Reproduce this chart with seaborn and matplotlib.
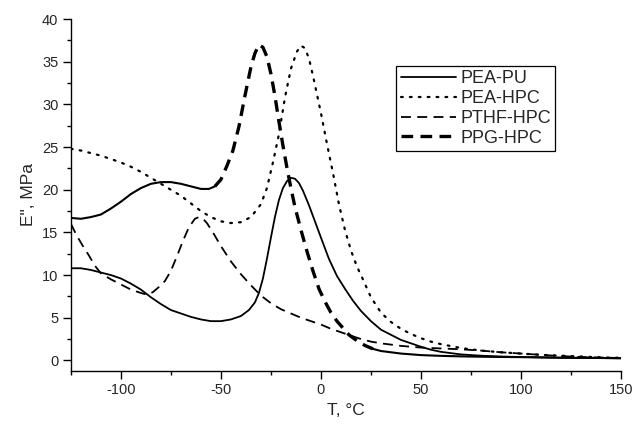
import pandas as pd
import matplotlib
matplotlib.use('Agg')
import matplotlib.pyplot as plt
import seaborn as sns

# Loss modulus E'' vs temperature
pea_pu_T = [-125, -120, -115, -110, -105, -100, -95, -90, -85, -80, -75, -70, -65, -60, -55, -50,
            -45, -40, -36, -33, -31, -29, -27, -25, -23, -21, -19, -17, -15, -13, -11, -9, -6, -3, 0, 4, 8, 12, 16, 20,
            25, 30, 35, 40, 45, 50, 55, 60, 70, 80, 90, 100, 110, 120, 130, 140, 150]
pea_pu_E = [10.8, 10.8, 10.6, 10.3, 10.0, 9.6, 9.0, 8.3, 7.4, 6.6, 5.9, 5.5, 5.1, 4.8, 4.6, 4.6,
            4.8, 5.2, 5.9, 6.8, 7.9, 9.6, 11.9, 14.4, 16.8, 18.8, 20.2, 21.0, 21.4, 21.3, 20.8, 19.9, 18.2, 16.3, 14.4, 11.9, 9.9, 8.4, 7.0, 5.8,
            4.6, 3.6, 3.0, 2.4, 2.0, 1.6, 1.25, 1.0, 0.7, 0.55, 0.45, 0.4, 0.35, 0.3, 0.28, 0.27, 0.25]

pea_hpc_T = [-125, -120, -115, -110, -105, -100, -95, -90, -85, -80, -75, -70, -65, -60, -55, -50,
             -45, -40, -35, -30, -27, -24, -21, -18, -15, -12, -10, -8, -6, -4, -2, 0, 3, 6, 9, 12,
             15, 18, 21, 25, 30, 35, 40, 45, 50, 55, 60, 70, 80, 90, 100, 110, 120, 130, 140, 150]
pea_hpc_E = [24.8, 24.6, 24.3, 24.0, 23.6, 23.2, 22.7, 22.1, 21.4, 20.7, 20.0, 19.3, 18.4, 17.5, 16.8, 16.3,
             16.1, 16.2, 16.8, 18.3, 20.2, 23.2, 26.5, 30.8, 34.2, 36.2, 36.9, 36.6, 35.4, 33.4, 31.2, 29.0, 25.4, 22.0, 18.3, 15.3,
             12.9, 11.0, 9.5, 7.4, 5.6, 4.5, 3.7, 3.1, 2.6, 2.2, 1.9, 1.45, 1.15, 0.95, 0.8, 0.65, 0.55, 0.45, 0.35, 0.3]

pthf_hpc_T = [-125, -122, -119, -116, -113, -110, -105, -100, -95, -90, -87, -84, -81, -78, -75, -72,
              -69, -66, -63, -61, -59, -57, -54, -50, -45, -40, -35, -30, -25, -20, -15, -10, -5, 0,
              5, 10, 15, 20, 25, 30, 40, 50, 60, 70, 80, 90, 100, 110, 120, 130, 140, 150]
pthf_hpc_E = [16.0, 14.6, 13.4, 12.3, 11.1, 10.2, 9.5, 8.9, 8.3, 7.9, 7.7, 8.0, 8.6, 9.3, 10.5, 12.2,
              14.0, 15.6, 16.6, 16.8, 16.6, 16.1, 15.0, 13.4, 11.6, 10.1, 8.8, 7.6, 6.7, 6.0, 5.5, 5.0, 4.6, 4.2,
              3.7, 3.3, 2.9, 2.5, 2.2, 2.0, 1.7, 1.5, 1.4, 1.3, 1.15, 0.95, 0.8, 0.65, 0.5, 0.4, 0.33, 0.28]

ppg_hpc_T = [-125, -120, -115, -110, -105, -100, -95, -90, -85, -80, -75, -70, -65, -60, -56, -53,
             -50, -47, -44, -41, -38, -35, -33, -31, -29, -27, -25, -23, -21, -19, -17, -15, -13, -10,
             -7, -4, -1, 2, 5, 8, 11, 14, 18, 22, 26, 30, 35, 40, 50, 60, 70, 80, 90, 100, 110, 120,
             130, 140, 150]
ppg_hpc_E = [16.7, 16.6, 16.8, 17.1, 17.8, 18.6, 19.5, 20.2, 20.7, 20.9, 20.9, 20.7, 20.4, 20.1, 20.1, 20.4,
             21.2, 22.8, 24.6, 27.4, 31.0, 34.4, 36.0, 37.0, 36.7, 35.6, 33.6, 31.0, 28.0, 25.2, 22.6, 20.2, 18.0, 15.3,
             12.8, 10.5, 8.4, 6.9, 5.6, 4.6, 3.8, 3.0, 2.3, 1.75, 1.35, 1.1, 0.95, 0.8, 0.62, 0.53, 0.47, 0.43, 0.4, 0.38, 0.35, 0.32,
             0.3, 0.28, 0.25]

labels = ['PEA-PU', 'PEA-HPC', 'PTHF-HPC', 'PPG-HPC']

pea_pu = pd.DataFrame({'T': pea_pu_T, 'E': pea_pu_E})
pea_hpc = pd.DataFrame({'T': pea_hpc_T, 'E': pea_hpc_E})
pthf_hpc = pd.DataFrame({'T': pthf_hpc_T, 'E': pthf_hpc_E})
ppg_hpc = pd.DataFrame({'T': ppg_hpc_T, 'E': ppg_hpc_E})

sns.set_style('ticks')
plt.rcParams['font.family'] = ['Liberation Sans', 'DejaVu Sans']
plt.rcParams['axes.unicode_minus'] = False

fig = plt.figure(figsize=(6.33, 4.26), dpi=100)
ax = fig.add_axes([0.112, 0.130, 0.869, 0.825])

sns.lineplot(data=pea_pu, x='T', y='E', ax=ax, color='black', lw=1.3, ls='-',
             label=labels[0], errorbar=None, legend=False)
sns.lineplot(data=pea_hpc, x='T', y='E', ax=ax, color='black', lw=1.6, ls=(0, (0.8, 3.2)),
             dash_capstyle='round', label=labels[1], errorbar=None, legend=False)
sns.lineplot(data=pthf_hpc, x='T', y='E', ax=ax, color='black', lw=1.3, ls=(0, (5.5, 3.5)),
             label=labels[2], errorbar=None, legend=False)

# the noisy low-T part and the tail of PPG-HPC look solid in the original
ppg_low = ppg_hpc[ppg_hpc['T'] <= -53]
ppg_mid = ppg_hpc[(ppg_hpc['T'] >= -53) & (ppg_hpc['T'] <= 26)]
ppg_high = ppg_hpc[ppg_hpc['T'] >= 26]
sns.lineplot(data=ppg_low, x='T', y='E', ax=ax, color='black', lw=1.5, ls='-',
             errorbar=None, legend=False)
sns.lineplot(data=ppg_mid, x='T', y='E', ax=ax, color='black', lw=2.4, ls=(0, (3.5, 2.2)),
             label=labels[3], errorbar=None, legend=False)
sns.lineplot(data=ppg_high, x='T', y='E', ax=ax, color='black', lw=1.5, ls='-',
             errorbar=None, legend=False)

ax.set_xlim(-125, 150)
ax.set_ylim(-1.2, 40)
ax.set_xticks([-100, -50, 0, 50, 100, 150])
ax.set_xticks([-125, -75, -25, 25, 75, 125], minor=True)
ax.set_yticks(range(0, 41, 5))
ax.set_yticks([2.5 + 5 * i for i in range(8)], minor=True)
ax.tick_params(which='major', length=5.5, width=1.0, labelsize=10.5, color='black')
ax.tick_params(which='minor', length=3, width=1.0, color='black')

ax.set_xlabel('T, \u00b0C', fontsize=12.5)
ax.set_ylabel('E", MPa', fontsize=12.5)

sns.despine(ax=ax)
for s in ['left', 'bottom']:
    ax.spines[s].set_linewidth(1.0)
    ax.spines[s].set_color('black')

handles, labs = ax.get_legend_handles_labels()
order = [labs.index(l) for l in labels]
leg = ax.legend([handles[i] for i in order], [labs[i] for i in order],
                loc='upper left', bbox_to_anchor=(0.591, 0.867), borderaxespad=0,
                fontsize=13, handlelength=3.1, handletextpad=0.2, labelspacing=0.15,
                borderpad=0.25, fancybox=False, framealpha=1, edgecolor='black')
leg.get_frame().set_linewidth(0.9)

fig.savefig('out.png', dpi=100)
